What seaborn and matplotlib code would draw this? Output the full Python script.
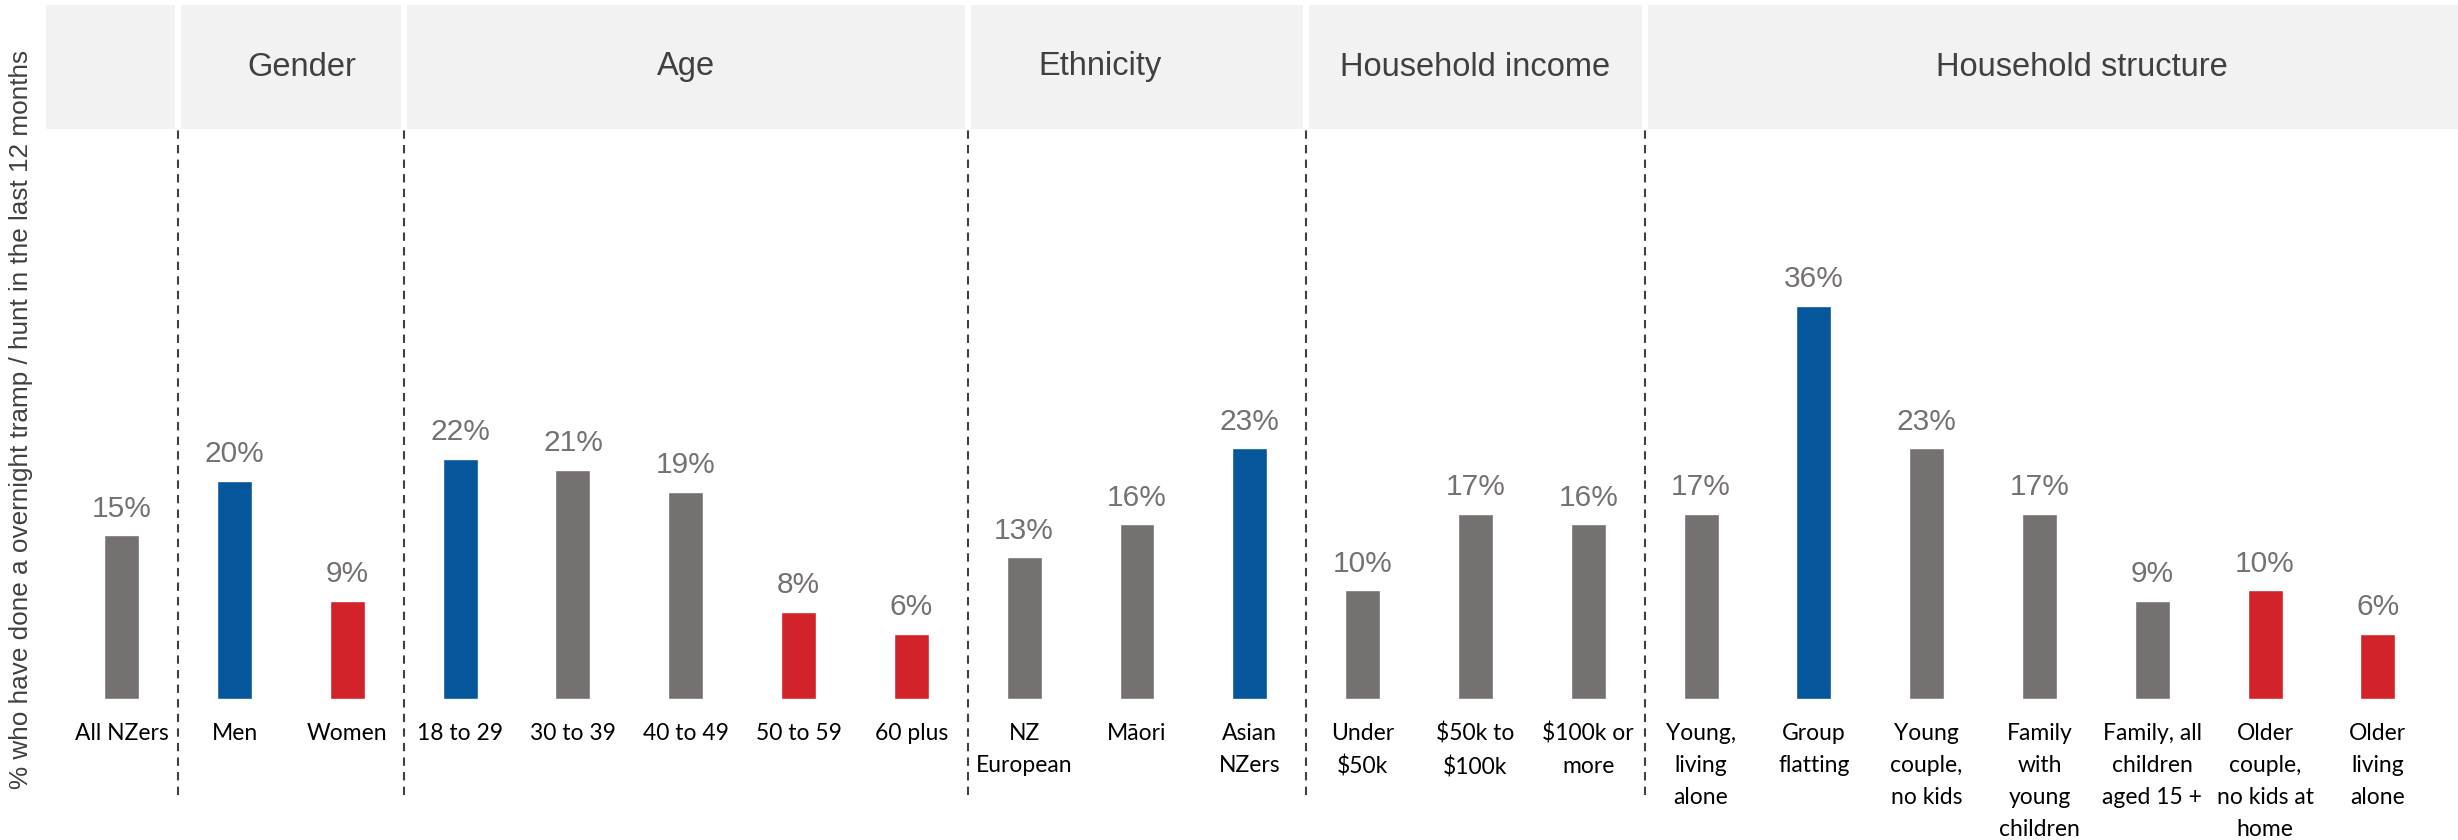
import numpy as np
import pandas as pd
import matplotlib
matplotlib.use("Agg")
import matplotlib.pyplot as plt
import matplotlib.transforms as mtransforms
from matplotlib.patches import Rectangle
import seaborn as sns

# chart data
categories = ["All NZers", "Men", "Women",
              "18 to 29", "30 to 39", "40 to 49", "50 to 59", "60 plus",
              "NZ\nEuropean", "Māori", "Asian\nNZers",
              "Under\n$50k", "$50k to\n$100k", "$100k or\nmore",
              "Young,\nliving\nalone", "Group\nflatting", "Young\ncouple,\nno kids",
              "Family\nwith\nyoung\nchildren", "Family, all\nchildren\naged 15 +",
              "Older\ncouple,\nno kids at\nhome", "Older\nliving\nalone"]
values = [15, 20, 9, 22, 21, 19, 8, 6, 13, 16, 23, 10, 17, 16, 17, 36, 23, 17, 9, 10, 6]
highlight = ["base", "high", "low", "high", "base", "base", "low", "low",
             "base", "base", "high", "base", "base", "base",
             "base", "high", "base", "base", "base", "low", "low"]
group_names = ["", "Gender", "Age", "Ethnicity", "Household income", "Household structure"]
group_sizes = [1, 2, 5, 3, 3, 7]
y_title = "% who have done a overnight tramp / hunt in the last 12 months"

palette = {"base": "#767171", "high": "#05569A", "low": "#D2232A"}

df = pd.DataFrame({"category": categories, "value": values, "highlight": highlight})

sns.set_style("white")
plt.rcParams["font.family"] = ["Liberation Sans", "DejaVu Sans"]

W, H = 2458, 840
fig = plt.figure(figsize=(W / 100, H / 100), dpi=100)
ax_left, ax_base, ax_top = 46, 699.3, 129
ax = fig.add_axes([ax_left / W, (H - ax_base) / H, (W - ax_left) / W, (ax_base - ax_top) / H])

sns.barplot(data=df, x="category", y="value", hue="highlight", order=categories,
            palette=palette, dodge=False, width=0.31, legend=False, ax=ax,
            saturation=1)

xmin, xmax = -0.671, 20.71
ax.set_xlim(xmin, xmax)
ax.set_ylim(0, 52.2)
sns.despine(ax=ax, left=True, bottom=True)
ax.set_yticks([])
ax.set_ylabel("")
ax.set_xlabel("")

# value labels
for i, v in enumerate(values):
    ax.annotate(f"{v}%", (i, v), xytext=(0, 9), textcoords="offset points",
                ha="center", va="bottom", fontsize=21.5, color="#767171")

# category labels (escape dollar signs so they are not read as math)
ax.set_xticks(range(len(categories)))
ax.set_xticklabels([c.replace("$", r"\$") for c in categories],
                   fontsize=16.5, family=["Lato", "DejaVu Sans"], linespacing=1.64,
                   va="top", color="#000000")
ax.tick_params(axis="x", length=0, pad=17)

# group header boxes and dashed dividers
trans = mtransforms.blended_transform_factory(ax.transData, ax.transAxes)
head_h = (ax_top - 5) / (ax_base - ax_top)
gap = 0.027
# small horizontal nudges of the header titles, as in the original slide
title_nudge = [0, 0.1, 0, -0.33, 0, 0.38]
start = 0
for k, (name, size) in enumerate(zip(group_names, group_sizes)):
    end = start + size - 1
    x0 = xmin if k == 0 else start - 0.5 + gap
    x1 = xmax if k == len(group_sizes) - 1 else end + 0.5 - gap
    ax.add_patch(Rectangle((x0, 1), x1 - x0, head_h, transform=trans,
                           facecolor="#F2F2F2", edgecolor="none", clip_on=False))
    if name:
        ax.text((start + end) / 2 + title_nudge[k], 1 + head_h / 2, name, transform=trans,
                ha="center", va="center", fontsize=23.5, color="#404040")
    if k > 0:
        ax.axvline(start - 0.5, ymin=-(795 - ax_base) / (ax_base - ax_top), ymax=1,
                   clip_on=False, color="#404040", lw=1.5, linestyle=(0, (4, 3)))
    start = end + 1

fig.text(21 / W, 1 - 419 / H, y_title, rotation=90, ha="center", va="center",
         fontsize=18.8, color="#404040")

fig.savefig("out.png", dpi=100)
